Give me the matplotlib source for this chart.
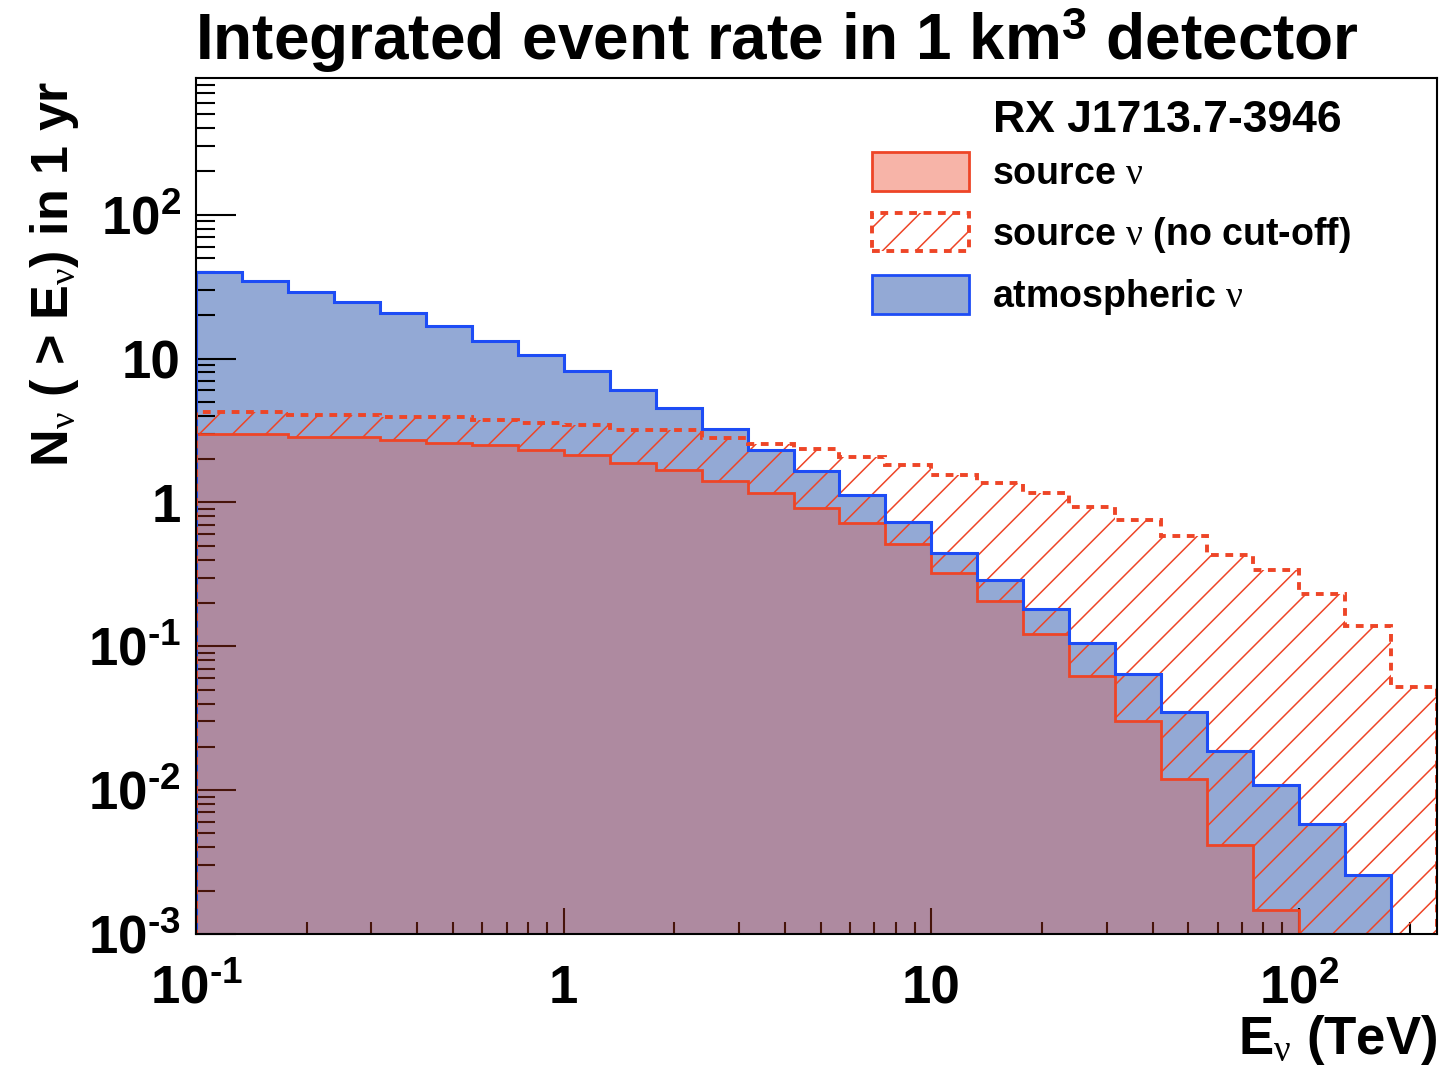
import numpy as np
import matplotlib
matplotlib.use('Agg')
import matplotlib.pyplot as plt
from matplotlib.patches import Patch
from matplotlib.ticker import LogLocator, NullFormatter

# histogram binning: 27 bins, 8 per decade, starting at 0.1 TeV
log_e_min = -1.0
log_e_max = 2.375
n_bins = 27

# integrated counts N(>E) per bin
atm_nu = [39.8, 34.4, 29.0, 24.7, 20.8, 16.7, 13.2, 10.5, 8.19, 6.08,
          4.51, 3.24, 2.32, 1.64, 1.12, 0.734, 0.447, 0.290, 0.183, 0.106,
          0.0637, 0.0352, 0.0188, 0.0108, 0.00577, 0.00259, 0.0]
src_nu = [3.0, 3.0, 2.85, 2.85, 2.70, 2.60, 2.49, 2.30, 2.14, 1.89,
          1.67, 1.40, 1.17, 0.913, 0.718, 0.513, 0.323, 0.208, 0.121, 0.0617,
          0.0301, 0.0120, 0.00417, 0.00146, 0.0, 0.0, 0.0]
src_nu_nocut = [4.25, 4.25, 4.07, 4.03, 3.92, 3.92, 3.72, 3.58, 3.45, 3.20,
                3.17, 2.82, 2.56, 2.36, 2.07, 1.83, 1.55, 1.36, 1.16, 0.928,
                0.75, 0.58, 0.433, 0.337, 0.231, 0.139, 0.0525]

x_ticks = [0.1, 1, 10, 100]
x_tick_labels = [r'$\mathdefault{10^{\text{-}1}}$', '1', '10', r'$\mathdefault{10^{2}}$']
y_ticks = [1e-3, 1e-2, 1e-1, 1, 10, 100]
y_tick_labels = [r'$\mathdefault{10^{\text{-}3}}$', r'$\mathdefault{10^{\text{-}2}}$',
                 r'$\mathdefault{10^{\text{-}1}}$', '1', '10', r'$\mathdefault{10^{2}}$']

RED = '#ee4527'
BLUE_LINE = '#1d4cf5'
BLUE_FILL = '#93a9d5'

plt.rcParams.update({
    'font.family': 'Liberation Sans',
    'font.weight': 'bold',
    'axes.labelweight': 'bold',
    'mathtext.fontset': 'custom',
    'mathtext.rm': 'Liberation Sans:bold',
    'mathtext.bf': 'Liberation Sans:bold',
    'mathtext.it': 'Liberation Serif:weight=normal',
    'hatch.linewidth': 1.1,
})

edges = np.logspace(log_e_min, log_e_max, n_bins + 1)
floor = 1e-6  # empty bins sit below the visible range
atm = np.clip(np.array(atm_nu), floor, None)
src = np.clip(np.array(src_nu), floor, None)
nocut = np.clip(np.array(src_nu_nocut), floor, None)

fig = plt.figure(figsize=(14.41, 10.66), dpi=100)
ax = fig.add_axes([196 / 1441, 1 - 934 / 1066, 1241 / 1441, 856 / 1066])
ax.set_xscale('log')
ax.set_yscale('log')

# fills
ax.stairs(atm, edges, baseline=floor, fill=True, facecolor=BLUE_FILL,
          edgecolor='none', zorder=1)
ax.stairs(src, edges, baseline=floor, fill=True, facecolor=RED, alpha=0.3,
          edgecolor='none', zorder=2)
ax.stairs(nocut, edges, baseline=src, fill=True, facecolor='none',
          edgecolor=RED, hatch='/', linewidth=0, zorder=3)

# outlines
ax.stairs(src, edges, baseline=floor, color=RED, linewidth=2, zorder=4)
ax.stairs(atm, edges, baseline=floor, color=BLUE_LINE, linewidth=2.2, zorder=5)
ax.stairs(nocut, edges, baseline=floor, color=RED, linewidth=2.8,
          linestyle=(0, (2, 1.7)), zorder=6)

ax.set_xlim(edges[0], edges[-1])
ax.set_ylim(1e-3, 10 ** 2.95)

ax.set_xticks(x_ticks, labels=x_tick_labels)
ax.set_yticks(y_ticks, labels=y_tick_labels)
ax.xaxis.set_minor_locator(LogLocator(base=10, subs=np.arange(2, 10), numticks=30))
ax.yaxis.set_minor_locator(LogLocator(base=10, subs=np.arange(2, 10), numticks=30))
ax.xaxis.set_minor_formatter(NullFormatter())
ax.yaxis.set_minor_formatter(NullFormatter())

ax.tick_params(which='both', direction='in', top=False, right=False,
               width=1.5, color='black')
ax.tick_params(axis='y', which='major', length=29, pad=11, labelsize=38)
ax.tick_params(axis='y', which='minor', length=14)
ax.tick_params(axis='x', which='major', length=19, pad=50, labelsize=38)
ax.tick_params(axis='x', which='minor', length=9)
for lbl in ax.get_xticklabels():
    lbl.set_va('baseline')

for sp in ax.spines.values():
    sp.set_linewidth(1.5)
    sp.set_zorder(10)

ax.set_xlabel(r'E$_{\nu}$ (TeV)', fontsize=38, loc='right')
ax.xaxis.set_label_coords(1.0, -0.092)
ax.set_ylabel(r'N$_{\nu}$ ( > E$_{\nu}$) in 1 yr', fontsize=37.5, loc='top')
ax.yaxis.set_label_coords(-0.093, 0.997)

fig.text(195 / 1441, 1 - 40 / 1066,
         r'Integrated event rate in 1 km$^{\mathdefault{3}}$ detector',
         fontsize=46, ha='left', va='center')

# legend
ax.text(0.642, 0.950, 'RX J1713.7-3946', transform=ax.transAxes,
        fontsize=32, ha='left', va='center', zorder=10)
handles = [
    Patch(facecolor=(0.93, 0.27, 0.15, 0.4), edgecolor=RED, linewidth=2),
    Patch(facecolor='white', edgecolor=RED, hatch='/', linewidth=2.8,
          linestyle=(0, (2, 1.7))),
    Patch(facecolor=BLUE_FILL, edgecolor=BLUE_LINE, linewidth=2),
]
labels = [r'source $\nu$', r'source $\nu$ (no cut-off)', r'atmospheric $\nu$']
ax.legend(handles, labels, loc='upper left', bbox_to_anchor=(0.5447, 0.913),
          frameon=False, fontsize=27, handlelength=2.6, handleheight=1.2,
          handletextpad=0.6, labelspacing=0.55, borderpad=0, borderaxespad=0)

fig.savefig('out.png', dpi=100)
